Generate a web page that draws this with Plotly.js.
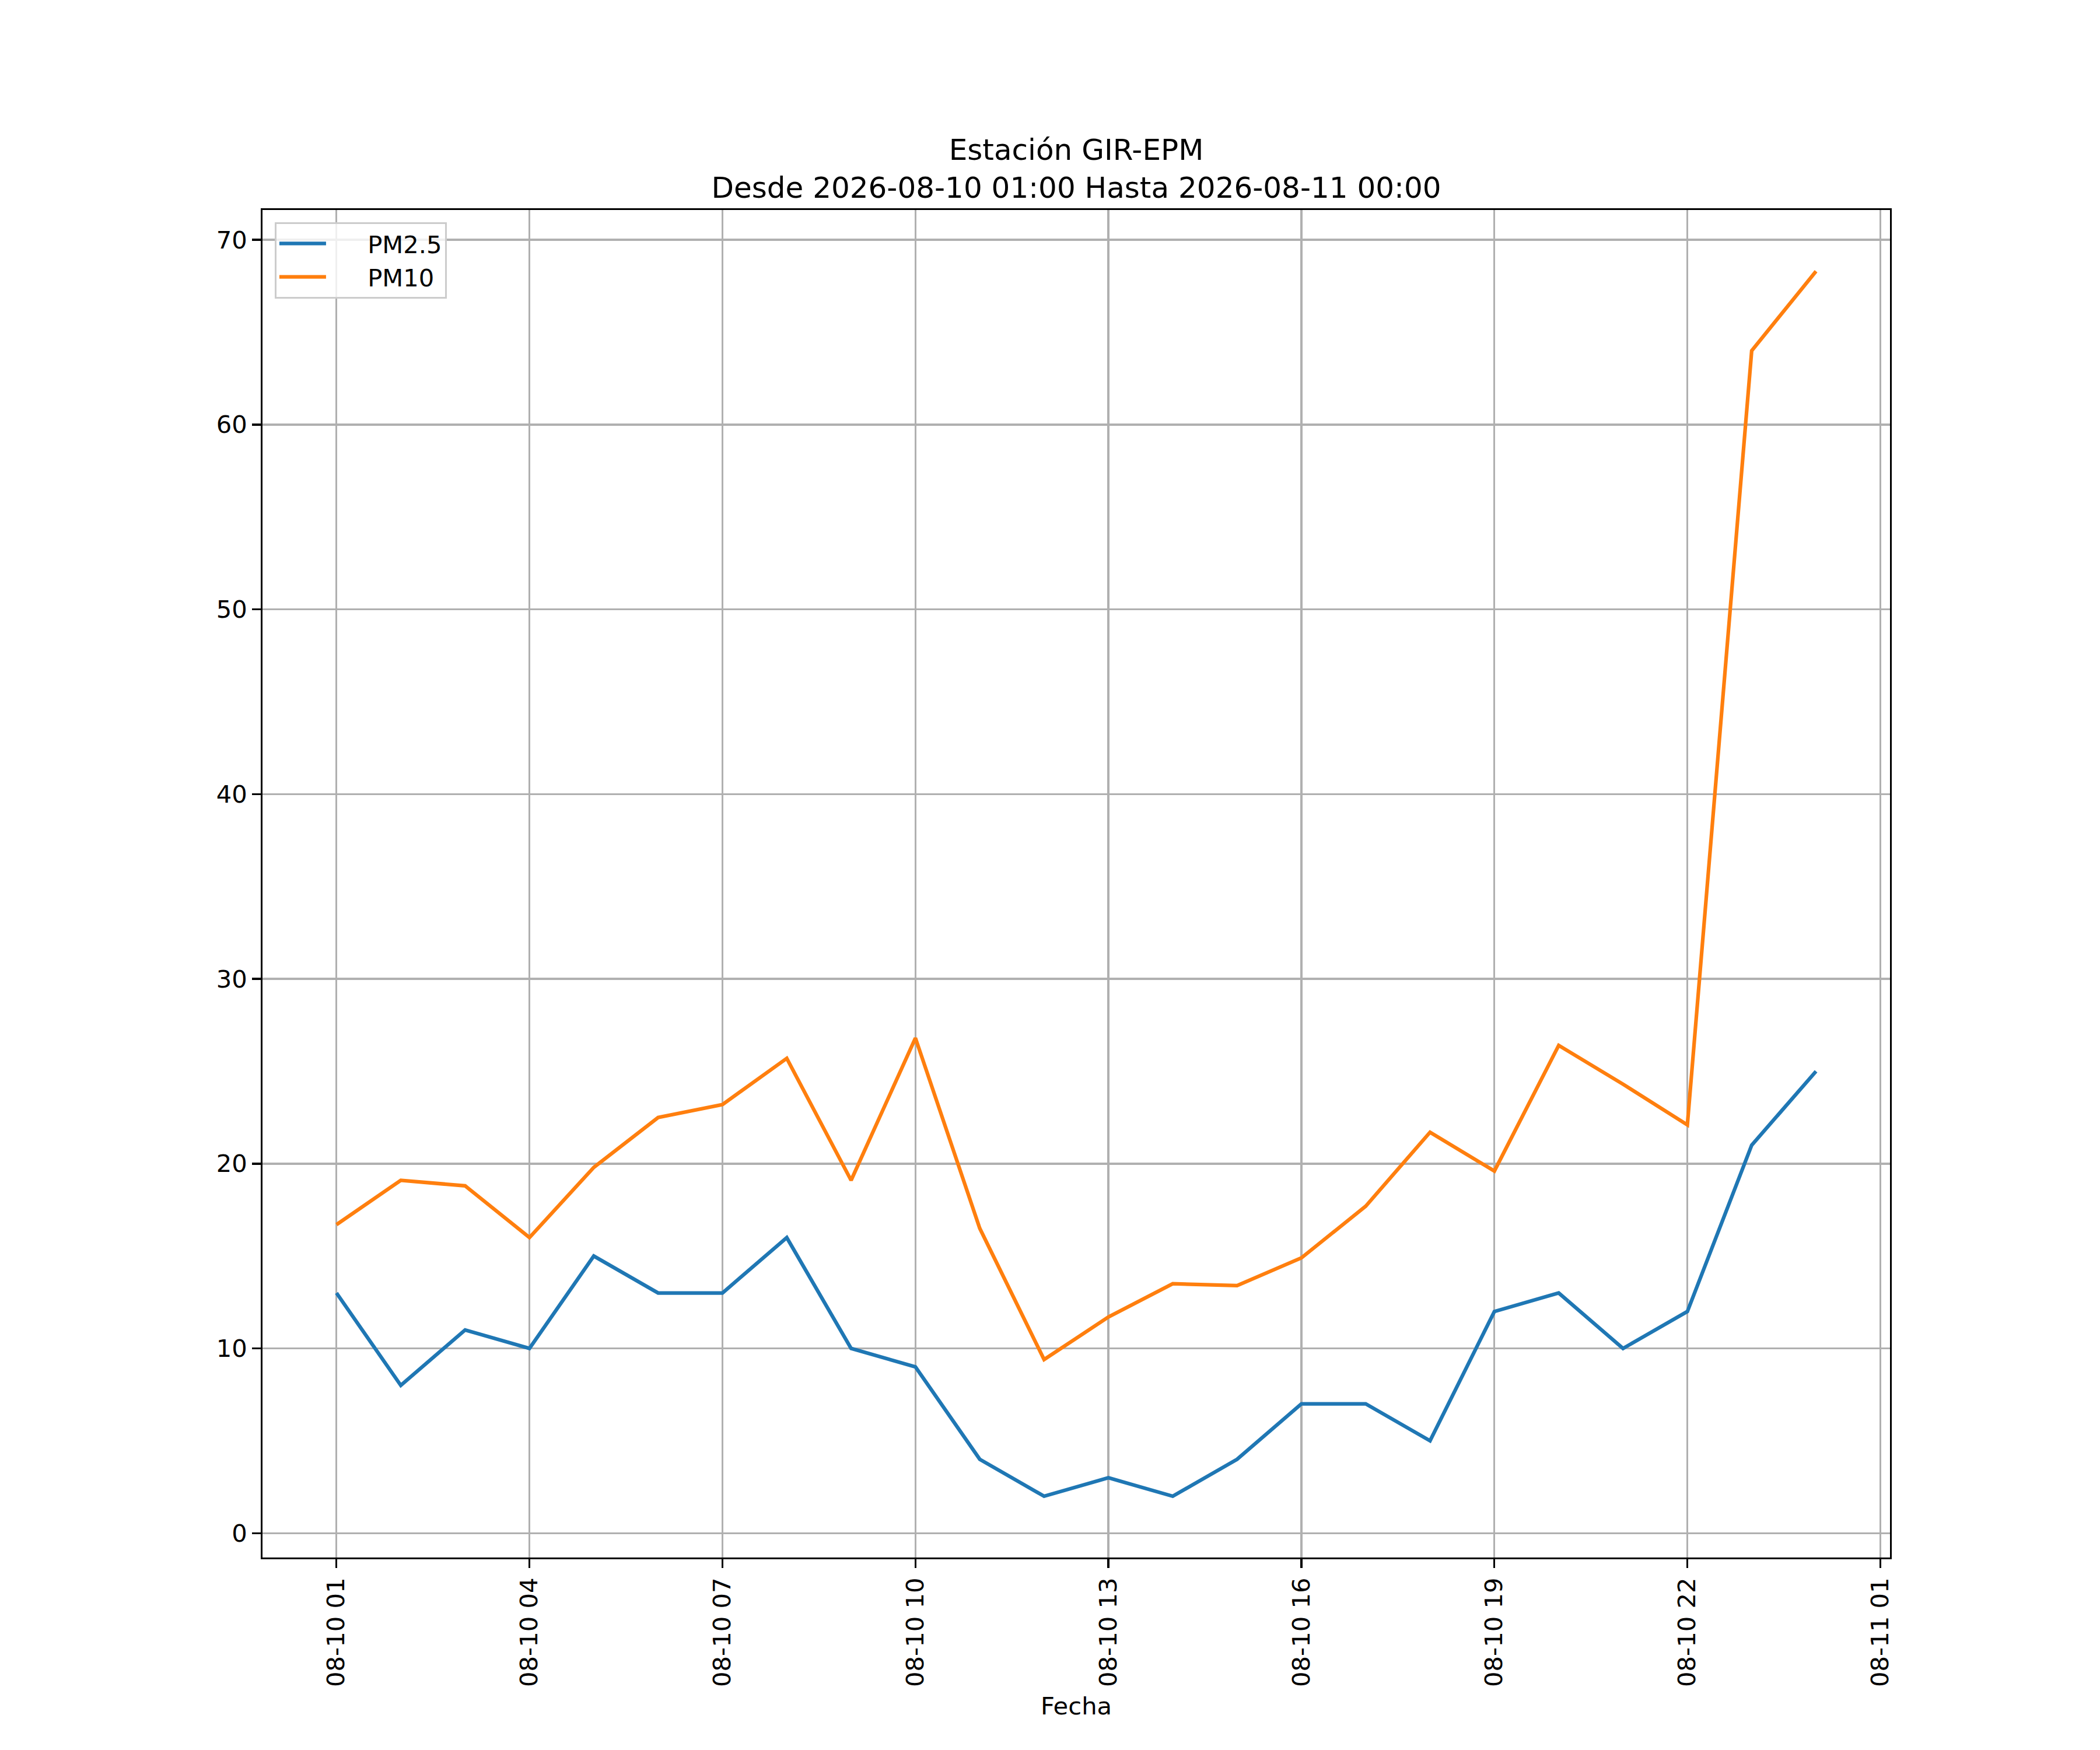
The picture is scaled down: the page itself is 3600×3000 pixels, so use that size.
<!DOCTYPE html>
<html>
<head>
<meta charset="utf-8">
<script src="https://cdn.plot.ly/plotly-3.0.1.min.js"></script>
<style>
html, body { margin: 0; padding: 0; background: #ffffff; }
#chart { width: 3600px; height: 3000px; }
</style>
</head>
<body>
<div id="chart"></div>
<script>
const times = [
  '2026-08-10 01:00', '2026-08-10 02:00', '2026-08-10 03:00', '2026-08-10 04:00',
  '2026-08-10 05:00', '2026-08-10 06:00', '2026-08-10 07:00', '2026-08-10 08:00',
  '2026-08-10 09:00', '2026-08-10 10:00', '2026-08-10 11:00', '2026-08-10 12:00',
  '2026-08-10 13:00', '2026-08-10 14:00', '2026-08-10 15:00', '2026-08-10 16:00',
  '2026-08-10 17:00', '2026-08-10 18:00', '2026-08-10 19:00', '2026-08-10 20:00',
  '2026-08-10 21:00', '2026-08-10 22:00', '2026-08-10 23:00', '2026-08-11 00:00'
];
const pm25 = [13, 8, 11, 10, 15, 13, 13, 16, 10, 9, 4, 2, 3, 2, 4, 7, 7, 5, 12, 13, 10, 12, 21, 25];
const pm10 = [16.7, 19.1, 18.8, 16.0, 19.8, 22.5, 23.2, 25.7, 19.1, 26.8, 16.5, 9.4,
              11.7, 13.5, 13.4, 14.9, 17.7, 21.7, 19.6, 26.4, 24.3, 22.1, 64.0, 68.3];
const xTickVals = [
  '2026-08-10 01:00', '2026-08-10 04:00', '2026-08-10 07:00', '2026-08-10 10:00',
  '2026-08-10 13:00', '2026-08-10 16:00', '2026-08-10 19:00', '2026-08-10 22:00',
  '2026-08-11 01:00'
];
const xTickText = ['08-10 01', '08-10 04', '08-10 07', '08-10 10', '08-10 13',
                   '08-10 16', '08-10 19', '08-10 22', '08-11 01'];
const yTickVals = [0, 10, 20, 30, 40, 50, 60, 70];
const seriesNames = ['PM2.5', 'PM10'];
const titleText = 'Estación GIR-EPM<br>Desde 2026-08-10 01:00 Hasta 2026-08-11 00:00';
const xLabel = 'Fecha';

const FONT = 'DejaVu Sans, sans-serif';
const colors = ['#1f77b4', '#ff7f0e'];
const NB = '\u00a0';

const traces = [pm25, pm10].map((vals, i) => ({
  x: times,
  y: vals,
  type: 'scatter',
  mode: 'lines',
  name: NB.repeat(5) + seriesNames[i],
  line: { color: colors[i], width: 6.25 }
}));

const axisCommon = {
  showline: true,
  linecolor: '#000000',
  linewidth: 3.33,
  mirror: true,
  ticks: 'outside',
  ticklen: 14.6,
  tickwidth: 3.33,
  tickcolor: '#000000',
  showgrid: true,
  gridcolor: '#b0b0b0',
  gridwidth: 3.33,
  zeroline: false,
  automargin: false,
  tickfont: { family: FONT, size: 41.67, color: '#000000' }
};

const layout = {
  width: 3600,
  height: 3000,
  paper_bgcolor: '#ffffff',
  plot_bgcolor: '#ffffff',
  margin: { l: 450, r: 360, t: 360, b: 330, pad: 0 },
  showlegend: true,
  title: {
    text: titleText,
    font: { family: FONT, size: 50, color: '#000000' },
    x: 0.5, xref: 'paper', xanchor: 'center',
    y: 1, yref: 'paper', yanchor: 'bottom',
    pad: { b: 86 }
  },
  xaxis: Object.assign({}, axisCommon, {
    type: 'date',
    range: ['2026-08-09 23:51', '2026-08-11 01:09'],
    tickmode: 'array',
    tickvals: xTickVals,
    ticktext: xTickText,
    tickangle: -90,
    title: { text: xLabel, font: { family: FONT, size: 41.67, color: '#000000' }, standoff: 20 }
  }),
  yaxis: Object.assign({}, axisCommon, {
    range: [-1.315, 71.615],
    tickmode: 'array',
    tickvals: yTickVals,
    ticktext: yTickVals.map(String)
  }),
  legend: {
    x: 0.0075, y: 0.991, xanchor: 'left', yanchor: 'top',
    xref: 'paper', yref: 'paper',
    bgcolor: 'rgba(255,255,255,0.8)',
    bordercolor: '#cccccc',
    borderwidth: 3,
    font: { family: FONT, size: 41.67, color: '#000000' },
    itemwidth: 80,
    tracegroupgap: 0
  }
};

Plotly.newPlot('chart', traces, layout, { displayModeBar: false, staticPlot: true });
</script>
</body>
</html>
